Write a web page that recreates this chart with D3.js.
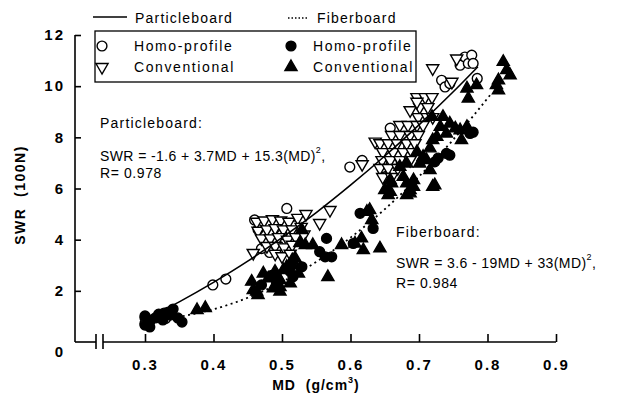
<!DOCTYPE html>
<html><head><meta charset="utf-8">
<script src="https://cdn.jsdelivr.net/npm/d3@7"></script>
<style>
body{margin:0;background:#fff}
svg{display:block}
text{font-family:"Liberation Sans",Arial,Helvetica,sans-serif;fill:#000}
</style>
</head><body>
<svg id="c" width="618" height="396"></svg>
<script>
// ---------- data ----------
const xTicks = [0.3, 0.4, 0.5, 0.6, 0.7, 0.8, 0.9];
const yTicks = [0, 2, 4, 6, 8, 10, 12];

// Particleboard, homo-profile (open circles)  [MD, SWR]
const pbHomo = [
  [0.300,0.95],[0.300,0.72],[0.308,0.85],[0.330,0.92],
  [0.399,2.23],[0.418,2.46],
  [0.507,5.22],[0.460,4.77],[0.465,4.40],[0.478,4.00],[0.482,3.50],[0.500,4.20],
  [0.520,4.55],[0.495,3.75],[0.470,3.65],[0.512,3.90],
  [0.599,6.84],[0.617,7.10],
  [0.658,8.36],[0.646,6.80],[0.650,6.45],[0.670,7.30],[0.685,7.60],[0.693,8.00],[0.660,7.00],
  [0.733,10.23],[0.738,9.97],[0.745,10.10],[0.760,10.82],[0.767,11.14],[0.772,10.89],
  [0.777,11.21],[0.779,10.89],[0.785,10.30]
];
// Particleboard, conventional (open down-triangles)
const pbConv = [
  [0.310,0.90],[0.458,3.48],
  [0.463,4.70],[0.474,4.75],[0.486,4.80],[0.498,4.75],[0.510,4.70],[0.523,4.85],[0.535,5.00],
  [0.465,4.35],[0.478,4.40],[0.490,4.45],[0.502,4.40],[0.515,4.40],[0.528,4.50],
  [0.470,4.05],[0.483,4.05],[0.495,4.10],[0.508,4.00],[0.520,4.10],[0.532,4.20],
  [0.478,3.75],[0.490,3.75],[0.503,3.70],[0.515,3.80],
  [0.490,3.45],[0.500,3.35],[0.512,3.45],
  [0.570,5.16],[0.555,4.65],[0.617,6.95],[0.636,7.83],
  [0.697,9.57],[0.709,9.57],[0.719,9.57],[0.701,9.18],[0.713,9.18],
  [0.699,8.79],[0.712,8.79],[0.720,8.79],[0.687,9.06],[0.697,9.39],
  [0.672,8.48],[0.684,8.48],[0.697,8.48],[0.706,8.48],
  [0.660,8.09],[0.672,8.09],[0.687,8.09],[0.699,8.09],
  [0.643,7.77],[0.655,7.77],[0.668,7.77],[0.682,7.77],[0.694,7.77],
  [0.647,7.42],[0.662,7.42],[0.677,7.42],[0.690,7.42],
  [0.646,7.11],[0.658,7.11],[0.672,7.11],[0.687,7.11],
  [0.643,6.80],[0.655,6.80],[0.669,6.80],
  [0.647,6.45],[0.660,6.45],
  [0.720,10.70],[0.748,10.17],[0.755,11.08]
];
// Fiberboard, homo-profile (filled circles)
const fbHomo = [
  [0.300,1.02],[0.300,0.66],[0.307,0.82],[0.315,0.94],[0.320,1.09],[0.328,1.13],
  [0.334,1.17],[0.341,1.29],[0.348,0.94],[0.354,0.78],[0.307,0.59],[0.326,0.86],[0.337,1.05],
  [0.470,2.23],[0.492,2.29],[0.516,2.55],[0.512,2.75],[0.529,2.94],[0.485,2.60],
  [0.565,4.05],[0.555,3.53],[0.563,3.33],[0.5725,3.33],[0.604,3.85],[0.614,5.03],[0.633,4.44],
  [0.740,7.37],[0.745,7.30],[0.7745,8.15],[0.779,8.20],[0.723,7.04],[0.728,7.19]
];
// Fiberboard, conventional (filled up-triangles)
const fbConv = [
  [0.376,1.25],[0.388,1.33],
  [0.4557,2.36],[0.463,1.97],[0.4727,2.68],[0.480,2.49],[0.4873,2.10],[0.4898,2.75],
  [0.497,2.42],[0.502,2.81],[0.507,2.94],[0.5165,3.00],[0.524,2.68],[0.512,2.29],
  [0.497,1.97],[0.458,2.03],[0.465,1.84],[0.494,2.54],[0.515,3.20],[0.519,3.28],[0.497,2.15],
  [0.526,3.87],[0.534,3.79],[0.545,3.79],[0.529,4.38],
  [0.567,2.54],[0.587,3.79],[0.6066,3.85],[0.616,4.05],[0.6187,3.59],[0.643,3.66],
  [0.624,5.09],[0.631,4.77],[0.628,5.16],
  [0.735,8.80],[0.745,8.54],[0.731,8.41],[0.753,8.35],[0.760,8.28],[0.770,8.41],[0.762,7.89],
  [0.720,7.89],[0.716,7.57],[0.711,7.11],[0.701,6.98],[0.716,6.72],[0.720,6.07],[0.677,6.46],
  [0.682,6.20],[0.692,6.07],[0.692,6.33],[0.660,6.20],[0.658,5.87],[0.687,5.81],[0.719,8.80],
  [0.740,8.15],[0.726,8.02],[0.697,7.43],[0.706,7.24],[0.682,6.98],[0.672,6.85],[0.658,6.33],
  [0.650,5.94],[0.655,5.74],[0.687,5.94],[0.682,5.74],[0.723,6.13],
  [0.770,9.91],[0.784,10.04],[0.772,9.52],[0.823,10.95],[0.828,10.63],[0.833,10.43],
  [0.816,10.23],[0.813,10.04],[0.816,9.84]
];
// fitted curves [MD, SWR]
const pbCurve = [[0.30,0.89],[0.35,1.57],[0.40,2.33],[0.45,3.16],[0.50,4.08],[0.55,5.06],
                 [0.60,6.13],[0.65,7.27],[0.70,8.49],[0.75,9.78],[0.786,10.76]];
const fbCurve = [[0.355,1.01],[0.40,1.28],[0.45,1.73],[0.50,2.35],[0.55,3.13],[0.60,4.08],
                 [0.65,5.19],[0.70,6.47],[0.75,7.91],[0.805,9.69]];

// ---------- drawing ----------
const svg = d3.select('#c');
const x = d3.scaleLinear().domain([0.3, 0.9]).range([145, 556]);
const y = d3.scaleLinear().domain([0, 12]).range([342, 35]);
const yAxisX = 75;
const FONT = '"Liberation Sans",Arial,Helvetica,sans-serif';

// y axis
svg.append('line').attr('x1', yAxisX).attr('x2', yAxisX).attr('y1', y(12)).attr('y2', y(0))
  .attr('stroke', '#000').attr('stroke-width', 1.6);
const ya = svg.append('g').attr('transform', `translate(${yAxisX},0)`)
  .call(d3.axisLeft(y).tickValues(yTicks).tickSize(-6).tickPadding(10).tickFormat(d3.format('d')));
ya.select('.domain').remove();
ya.selectAll('line').attr('stroke-width', 1.6);
ya.selectAll('.tick').filter(d => d === 0).select('line').remove();
ya.selectAll('.tick').filter(d => d === 0).select('text').attr('dy', '0.95em');
ya.selectAll('text').attr('font-family', FONT).attr('font-size', 15).attr('font-weight', 'bold')
  .attr('letter-spacing', 2);

// x axis
const ax0 = y(0);
svg.append('line').attr('x1', yAxisX).attr('x2', 96).attr('y1', ax0).attr('y2', ax0)
  .attr('stroke', '#000').attr('stroke-width', 1.6);
svg.append('line').attr('x1', 103).attr('x2', x(0.9)).attr('y1', ax0).attr('y2', ax0)
  .attr('stroke', '#000').attr('stroke-width', 1.6);
[96, 103].forEach(bx => svg.append('line').attr('x1', bx).attr('x2', bx)
  .attr('y1', ax0 - 8).attr('y2', ax0 + 7).attr('stroke', '#000').attr('stroke-width', 1.6));
const xa = svg.append('g').attr('transform', `translate(0,${ax0})`)
  .call(d3.axisBottom(x).tickValues(xTicks).tickSize(-8).tickSizeOuter(0).tickPadding(17)
    .tickFormat(d3.format('.1f')));
xa.select('.domain').remove();
xa.selectAll('line').attr('stroke-width', 1.6);
xa.selectAll('text').attr('font-family', FONT).attr('font-size', 15).attr('font-weight', 'bold')
  .attr('letter-spacing', 2);

// axis titles
const xt = svg.append('text').attr('x', 316).attr('y', 390).attr('text-anchor', 'middle')
  .attr('font-size', 14).attr('font-weight', 'bold').attr('letter-spacing', 1)
  .style('white-space', 'pre');
xt.append('tspan').text('MD  (g/cm');
xt.append('tspan').text('3').attr('font-size', 9).attr('dy', -7);
xt.append('tspan').text(')').attr('dy', 7);

svg.append('text').attr('transform', 'translate(25,195) rotate(-90)').attr('text-anchor', 'middle')
  .attr('font-size', 14).attr('font-weight', 'bold').attr('letter-spacing', 1.5)
  .style('white-space', 'pre').text('SWR  (100N)');

// curves
const line = d3.line().x(d => x(d[0])).y(d => y(d[1])).curve(d3.curveMonotoneX);

// markers
const circ = d3.symbol().type(d3.symbolCircle).size(76);
const tri = d3.symbol().type(d3.symbolTriangle).size(64);
function drawPts(data, gen, fill, rot) {
  svg.append('g').selectAll('path').data(data).join('path')
    .attr('d', gen)
    .attr('transform', d => `translate(${x(d[0])},${y(d[1])})${rot ? ' rotate(180)' : ''}`)
    .attr('fill', fill ? '#000' : '#fff')
    .attr('stroke', '#000').attr('stroke-width', 1.4);
}
drawPts(pbHomo, circ, false, false);
drawPts(pbConv, tri, false, true);
drawPts(fbHomo, circ, true, false);
drawPts(fbConv, tri, true, false);

svg.append('path').datum(pbCurve).attr('d', line).attr('fill', 'none')
  .attr('stroke', '#000').attr('stroke-width', 1.6);
svg.append('path').datum(fbCurve).attr('d', line).attr('fill', 'none')
  .attr('stroke', '#000').attr('stroke-width', 1.8).attr('stroke-dasharray', '2,3.5');

// top legend (line styles)
svg.append('line').attr('x1', 93).attr('x2', 127).attr('y1', 17).attr('y2', 17)
  .attr('stroke', '#000').attr('stroke-width', 1.5);
svg.append('text').attr('x', 135).attr('y', 23).attr('font-size', 14).attr('letter-spacing', 1.2)
  .text('Particleboard');
svg.append('line').attr('x1', 288).attr('x2', 307).attr('y1', 18).attr('y2', 18)
  .attr('stroke', '#000').attr('stroke-width', 1.5).attr('stroke-dasharray', '1.5,2');
svg.append('text').attr('x', 317).attr('y', 23).attr('font-size', 14).attr('letter-spacing', 1.2)
  .text('Fiberboard');

// marker legend box
svg.append('rect').attr('x', 95).attr('y', 31).attr('width', 321).attr('height', 51)
  .attr('fill', '#fff').attr('stroke', '#000').attr('stroke-width', 1.3);
const leg = [
  {mx: 102, my: 46, gen: circ, fill: false, rot: false, tx: 134, t: 'Homo-profile'},
  {mx: 102, my: 67, gen: tri, fill: false, rot: true, tx: 134, t: 'Conventional'},
  {mx: 291, my: 46, gen: circ, fill: true, rot: false, tx: 313, t: 'Homo-profile'},
  {mx: 291, my: 67, gen: tri, fill: true, rot: false, tx: 313, t: 'Conventional'}
];
leg.forEach(l => {
  svg.append('path').attr('d', l.gen())
    .attr('transform', `translate(${l.mx},${l.my})${l.rot ? ' rotate(180)' : ''}`)
    .attr('fill', l.fill ? '#000' : '#fff').attr('stroke', '#000').attr('stroke-width', 1.4);
  svg.append('text').attr('x', l.tx).attr('y', l.my + 5).attr('font-size', 14)
    .attr('letter-spacing', 1.6).text(l.t);
});

// annotations
function ann(x0, y0, lines) {
  svg.append('text').attr('x', x0).attr('y', y0[0]).attr('font-size', 14).attr('letter-spacing', 1.2)
    .text(lines[0]);
  const t = svg.append('text').attr('x', x0).attr('y', y0[1]).attr('font-size', 14)
    .attr('letter-spacing', 0.4);
  t.append('tspan').text(lines[1]);
  t.append('tspan').text('2').attr('font-size', 9).attr('dy', -8);
  t.append('tspan').text(',').attr('dy', 8);
  svg.append('text').attr('x', x0).attr('y', y0[2]).attr('font-size', 14).attr('letter-spacing', 0.6)
    .text(lines[2]);
}
ann(100, [128, 161, 178], ['Particleboard:', 'SWR = -1.6 + 3.7MD + 15.3(MD)', 'R= 0.978']);
ann(396, [237, 268, 288], ['Fiberboard:', 'SWR = 3.6 - 19MD + 33(MD)', 'R= 0.984']);
</script>
</body></html>
